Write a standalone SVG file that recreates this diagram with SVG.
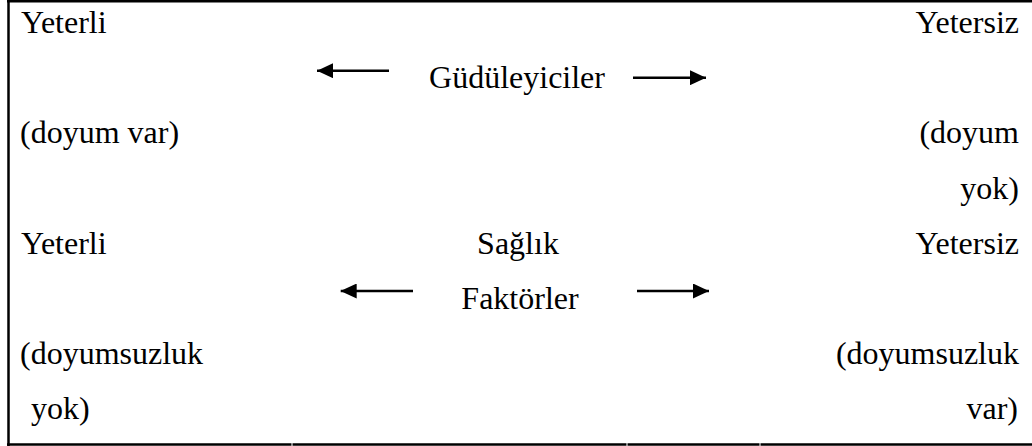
<svg xmlns="http://www.w3.org/2000/svg" width="1032" height="446" viewBox="0 0 1032 446">
  <style>
    .t { font-family: 'Liberation Serif', 'Times New Roman', Times, 'DejaVu Serif', serif; font-size: 32px; fill: #000; }
    .r { text-anchor: end; }
    .c { text-anchor: middle; }
    .frame { stroke: #000; stroke-width: 2.5; fill: none; }
    .arrow { stroke: #000; stroke-width: 2.5; fill: none; marker-end: url(#head); }
  </style>
  <defs>
    <marker id="head" viewBox="0 0 16 15" refX="16" refY="7.5" markerWidth="16" markerHeight="15" markerUnits="userSpaceOnUse" orient="auto">
      <path d="M0,0 L16,7.5 L0,15 Z" fill="#000"/>
    </marker>
  </defs>

  <!-- table frame: top, left and bottom rules -->
  <g id="frame">
    <line class="frame" x1="7" y1="1.2" x2="1032" y2="1.2"/>
    <line class="frame" x1="8.5" y1="0" x2="8.5" y2="446"/>
    <line class="frame" x1="7" y1="444.5" x2="291.5" y2="444.5"/>
    <line class="frame" x1="292.5" y1="444.5" x2="626.5" y2="444.5"/>
    <line class="frame" x1="627.5" y1="444.5" x2="759.5" y2="444.5"/>
    <line class="frame" x1="760.5" y1="444.5" x2="1032" y2="444.5"/>
  </g>

  <g class="t" font-family="Liberation Serif, Times New Roman, serif">
    <!-- motivators row -->
    <g id="motivators-left">
      <text x="21" y="33">Yeterli</text>
      <text x="20" y="143">(doyum var)</text>
    </g>
    <g id="motivators-center">
      <text class="c" x="517" y="88">Güdüleyiciler</text>
    </g>
    <g id="motivators-right">
      <text class="r" x="1019" y="33">Yetersiz</text>
      <text class="r" x="1019" y="143">(doyum</text>
      <text class="r" x="1019" y="198.5">yok)</text>
    </g>

    <!-- hygiene factors row -->
    <g id="hygiene-left">
      <text x="21" y="253.5">Yeterli</text>
      <text x="20" y="364">(doyumsuzluk</text>
      <text x="31" y="419">yok)</text>
    </g>
    <g id="hygiene-center">
      <text class="c" x="518" y="253.5">Sağlık</text>
      <text class="c" x="520" y="309">Faktörler</text>
    </g>
    <g id="hygiene-right">
      <text class="r" x="1019" y="253.5">Yetersiz</text>
      <text class="r" x="1019" y="364">(doyumsuzluk</text>
      <text class="r" x="1018" y="419">var)</text>
    </g>
  </g>

  <!-- direction arrows -->
  <g id="connectors">
    <line class="arrow" x1="389" y1="70.7" x2="317" y2="70.7"/>
    <line class="arrow" x1="633" y1="77.7" x2="706" y2="77.7"/>
    <line class="arrow" x1="413" y1="291" x2="340.7" y2="291"/>
    <line class="arrow" x1="637" y1="291" x2="709" y2="291"/>
  </g>
</svg>
